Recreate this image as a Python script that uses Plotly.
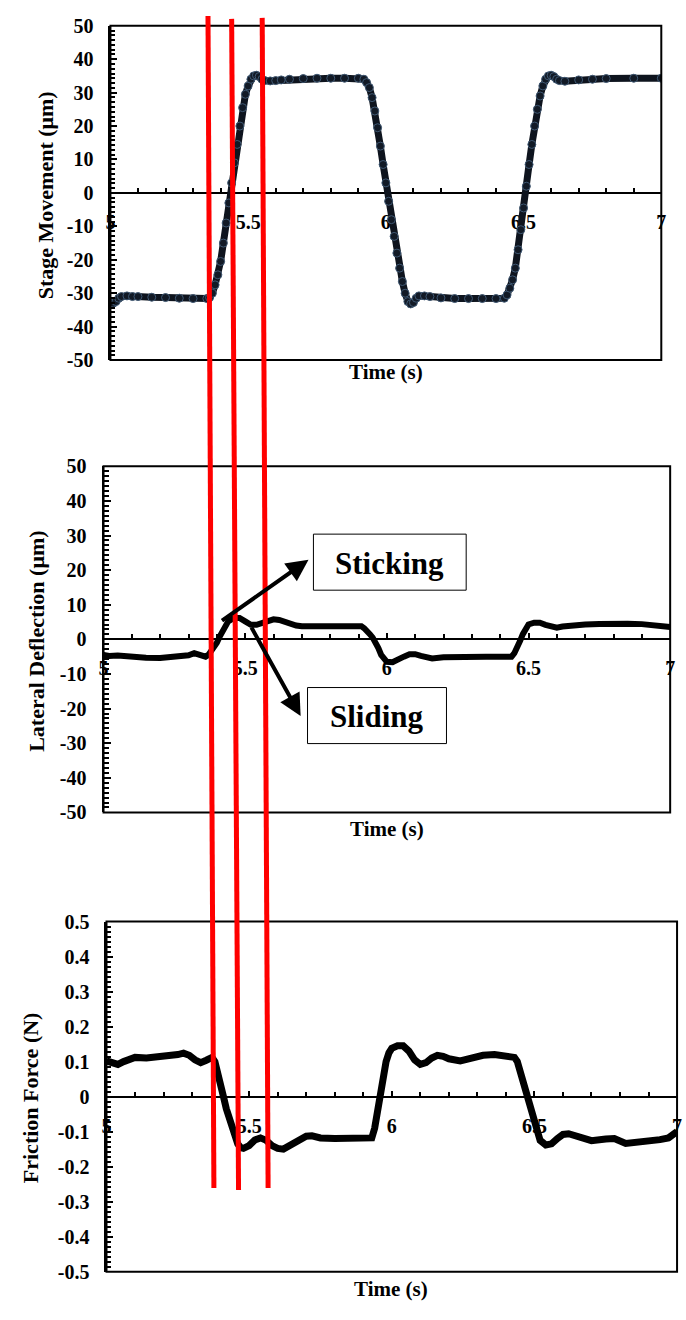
import plotly.graph_objects as go

W, H = 686, 1320

# ---------------- data ----------------
t_stage = [5.00, 5.01, 5.02, 5.03, 5.04, 5.06, 5.08, 5.10, 5.15, 5.20, 5.25, 5.30, 5.35, 5.36, 5.37, 5.38,
           5.39, 5.40, 5.41, 5.42, 5.43, 5.44, 5.45, 5.46, 5.47, 5.48, 5.49, 5.50, 5.51, 5.52, 5.53, 5.54,
           5.55, 5.56, 5.58, 5.60, 5.62, 5.65, 5.70, 5.75, 5.80, 5.85, 5.90, 5.92, 5.93, 5.94, 5.95, 5.96,
           5.97, 5.98, 5.99, 6.00, 6.01, 6.02, 6.03, 6.04, 6.05, 6.06, 6.07, 6.08, 6.09, 6.10, 6.11, 6.12,
           6.14, 6.16, 6.20, 6.25, 6.30, 6.35, 6.40, 6.43, 6.44, 6.45, 6.46, 6.47, 6.48, 6.49, 6.50, 6.51,
           6.52, 6.53, 6.54, 6.55, 6.56, 6.57, 6.58, 6.59, 6.60, 6.61, 6.62, 6.63, 6.65, 6.70, 6.75, 6.80,
           6.90, 7.00]
stage_um = [-32.5, -33.0, -32.5, -31.5, -31.0, -30.8, -31.0, -31.0, -31.2, -31.3, -31.5, -31.6, -31.6, -31.3, -30.0, -27.5,
            -24.5, -20.5, -15.0, -9.0, -3.0, 3.0, 9.0, 14.5, 20.0, 25.5, 29.5, 32.0, 34.0, 35.0, 35.2, 34.8,
            34.0, 33.6, 33.5, 33.6, 33.8, 34.0, 34.2, 34.3, 34.3, 34.3, 34.3, 34.0, 33.0, 31.5, 28.5, 24.5,
            19.5, 14.0, 8.5, 3.0, -2.5, -8.0, -13.0, -18.0, -22.5, -26.5, -30.0, -32.5, -33.2, -32.8, -31.5, -30.8,
            -30.8, -31.0, -31.4, -31.6, -31.6, -31.6, -31.6, -31.5, -30.5, -28.5, -26.0, -22.5, -17.0, -11.0, -4.5, 2.0,
            8.5, 14.5, 20.0, 25.0, 29.0, 32.0, 34.0, 35.0, 35.2, 34.8, 34.0, 33.6, 33.4, 33.8, 34.0, 34.2,
            34.3, 34.3]

t_lat = [5.00, 5.02, 5.05, 5.08, 5.10, 5.15, 5.20, 5.25, 5.30, 5.32, 5.34, 5.36, 5.37, 5.38, 5.39, 5.40,
         5.41, 5.42, 5.43, 5.44, 5.46, 5.48, 5.50, 5.52, 5.54, 5.56, 5.58, 5.60, 5.62, 5.64, 5.66, 5.68,
         5.70, 5.75, 5.80, 5.85, 5.90, 5.91, 5.92, 5.93, 5.94, 5.95, 5.96, 5.97, 5.98, 5.99, 6.00, 6.02,
         6.04, 6.06, 6.08, 6.10, 6.12, 6.14, 6.16, 6.20, 6.25, 6.30, 6.35, 6.40, 6.44, 6.45, 6.46, 6.47,
         6.48, 6.49, 6.50, 6.52, 6.54, 6.56, 6.58, 6.60, 6.62, 6.65, 6.70, 6.75, 6.80, 6.85, 6.90, 6.95, 7.00]
lateral_um = [-4.5, -4.8, -4.7, -5.0, -5.2, -5.3, -5.4, -5.2, -4.6, -4.0, -4.6, -5.0, -4.5, -3.5, -2.5, -1.0,
              0.8, 2.5, 4.0, 5.2, 6.2, 6.2, 5.2, 4.2, 4.2, 4.8, 5.5, 5.8, 5.6, 5.0, 4.5, 4.0,
              3.8, 3.9, 4.0, 4.0, 4.0, 3.8, 3.2, 2.5, 1.5, 0.5, -0.8, -2.5, -4.5, -5.8, -6.5, -6.6,
              -6.0, -5.0, -4.3, -4.3, -4.8, -5.3, -5.5, -5.2, -5.0, -5.2, -5.0, -5.0, -5.0, -4.0, -2.5, -0.5,
              1.5, 3.2, 4.3, 4.8, 4.8, 4.2, 3.6, 3.4, 3.7, 4.0, 4.3, 4.4, 4.6, 4.5, 4.4, 4.2, 3.6]

t_fric = [5.00, 5.02, 5.04, 5.06, 5.08, 5.10, 5.14, 5.18, 5.22, 5.25, 5.27, 5.29, 5.31, 5.33, 5.35, 5.37,
          5.38, 5.39, 5.40, 5.41, 5.42, 5.43, 5.44, 5.45, 5.46, 5.47, 5.48, 5.50, 5.52, 5.54, 5.56, 5.58,
          5.60, 5.62, 5.64, 5.66, 5.68, 5.70, 5.72, 5.75, 5.80, 5.85, 5.90, 5.93, 5.94, 5.95, 5.96, 5.97,
          5.98, 5.99, 6.00, 6.02, 6.04, 6.06, 6.08, 6.10, 6.12, 6.14, 6.16, 6.18, 6.20, 6.24, 6.28, 6.32,
          6.36, 6.40, 6.43, 6.44, 6.45, 6.46, 6.47, 6.48, 6.49, 6.50, 6.51, 6.52, 6.54, 6.56, 6.58, 6.60,
          6.62, 6.65, 6.70, 6.75, 6.78, 6.82, 6.86, 6.90, 6.94, 6.97, 7.00]
friction_N = [0.102, 0.096, 0.092, 0.100, 0.108, 0.112, 0.110, 0.113, 0.115, 0.120, 0.124, 0.118, 0.105, 0.097, 0.104, 0.112,
              0.100, 0.072, 0.035, 0.000, -0.035, -0.062, -0.085, -0.112, -0.135, -0.146, -0.148, -0.140, -0.124, -0.118, -0.125, -0.140,
              -0.148, -0.150, -0.140, -0.128, -0.120, -0.113, -0.112, -0.118, -0.120, -0.118, -0.119, -0.118, -0.090, -0.040, 0.010, 0.060,
              0.100, 0.125, 0.138, 0.145, 0.145, 0.130, 0.105, 0.092, 0.097, 0.110, 0.118, 0.115, 0.108, 0.102, 0.110, 0.118,
              0.120, 0.116, 0.112, 0.100, 0.070, 0.040, 0.010, -0.010, -0.050, -0.080, -0.105, -0.125, -0.138, -0.135, -0.120, -0.108,
              -0.106, -0.115, -0.126, -0.121, -0.120, -0.134, -0.132, -0.128, -0.123, -0.118, -0.100]

x_tickvals = [5, 5.5, 6, 6.5, 7]
x_ticktext = ["5", "5.5", "6", "6.5", "7"]
um_tickvals = [-50, -40, -30, -20, -10, 0, 10, 20, 30, 40, 50]
um_ticktext = ["-50", "-40", "-30", "-20", "-10", "0", "10", "20", "30", "40", "50"]
n_tickvals = [-0.5, -0.4, -0.3, -0.2, -0.1, 0, 0.1, 0.2, 0.3, 0.4, 0.5]
n_ticktext = ["-0.5", "-0.4", "-0.3", "-0.2", "-0.1", "0", "0.1", "0.2", "0.3", "0.4", "0.5"]

y_titles = ["Stage Movement (μm)", "Lateral Deflection (μm)", "Friction Force (N)"]

# ---------------- layout helpers (pixel -> paper) ----------------
def px(x):
    return x / W

def py(y):
    return 1 - y / H

FONT = "Liberation Serif"

# plot-area boxes in pixels: left, right, top, bottom
boxes = [(107, 666, 15, 355), (100, 675, 463, 815), (103, 682, 926, 1282)]
series = [(t_stage, stage_um), (t_lat, lateral_um), (t_fric, friction_N)]

fig = go.Figure()

fig.add_trace(go.Scatter(
    x=t_stage, y=stage_um, xaxis="x", yaxis="y", mode="lines+markers",
    line=dict(color="#0e141e", width=7),
    marker=dict(size=8, color="#121a26", line=dict(color="#3f5873", width=1)),
    showlegend=False))
fig.add_trace(go.Scatter(
    x=t_lat, y=lateral_um, xaxis="x2", yaxis="y2", mode="lines",
    line=dict(color="black", width=6), showlegend=False))
fig.add_trace(go.Scatter(
    x=t_fric, y=friction_N, xaxis="x3", yaxis="y3", mode="lines",
    line=dict(color="black", width=7), showlegend=False))

tickfont = dict(family=FONT, size=20, color="black", weight="bold")
layout = dict(
    width=W, height=H, margin=dict(l=0, r=0, t=0, b=0),
    paper_bgcolor="white", plot_bgcolor="white", showlegend=False,
)

yranges = [(-50, 50), (-50, 50), (-0.5, 0.5)]
ytv = [(um_tickvals, um_ticktext), (um_tickvals, um_ticktext), (n_tickvals, n_ticktext)]

shapes = []
annotations = []
for i, (l, r, t, b) in enumerate(boxes):
    sfx = "" if i == 0 else str(i + 1)
    msfx = str(i + 4)  # overlay axes that carry the minor ticks
    ydom = [py(b), py(t)]
    xdom = [px(l), px(r)]
    lo, hi = yranges[i]
    xpos = (ydom[0] + ydom[1]) / 2
    layout["xaxis" + sfx] = dict(
        domain=xdom, range=[5, 7], anchor="free", position=xpos,
        tickmode="array", tickvals=x_tickvals, ticktext=x_ticktext,
        ticks="inside", ticklen=5, tickwidth=2, tickcolor="black",
        showline=True, linecolor="black", linewidth=2, showgrid=False, zeroline=False,
        tickfont=tickfont, ticklabelstandoff=11, layer="below traces", fixedrange=True,
    )
    layout["yaxis" + sfx] = dict(
        domain=ydom, range=[lo, hi], anchor="x" + sfx,
        tickmode="array", tickvals=ytv[i][0], ticktext=ytv[i][1],
        ticks="inside", ticklen=7, tickwidth=2, tickcolor="black",
        showline=True, linecolor="black", linewidth=2, showgrid=False, zeroline=False,
        tickfont=tickfont, ticklabelstandoff=11, fixedrange=True,
    )
    # minor-tick overlay axes
    layout["xaxis" + msfx] = dict(
        overlaying="x" + sfx, range=[5, 7], anchor="free", position=xpos,
        tickmode="linear", tick0=5, dtick=0.1, ticks="inside", ticklen=5, tickwidth=2,
        tickcolor="black", showticklabels=False, showline=False, showgrid=False, zeroline=False,
        layer="below traces", fixedrange=True,
    )
    layout["yaxis" + msfx] = dict(
        overlaying="y" + sfx, range=[lo, hi], anchor="x" + msfx,
        tickmode="linear", tick0=lo, dtick=(hi - lo) / 70, ticks="inside", ticklen=5, tickwidth=1.5,
        tickcolor="black", showticklabels=False, showline=False, showgrid=False, zeroline=False,
        fixedrange=True,
    )
    fig.add_trace(go.Scatter(x=series[i][0], y=series[i][1], xaxis="x" + msfx, yaxis="y" + msfx,
                             mode="lines", line=dict(width=0, color="rgba(0,0,0,0)"),
                             hoverinfo="skip", showlegend=False))
    shapes.append(dict(type="rect", xref="x" + sfx + " domain", yref="y" + sfx + " domain",
                       x0=0, x1=1, y0=0, y1=1, line=dict(color="black", width=2), layer="above"))

# axis titles
xtitle_pos = [(387, 367), (388, 832), (392, 1300)]
for (x, y) in xtitle_pos:
    annotations.append(dict(text="<b>Time (s)</b>", x=px(x), y=py(y), xref="paper", yref="paper",
                            showarrow=False, xanchor="center", yanchor="middle",
                            font=dict(family=FONT, size=21, color="black")))
ytitle_pos = [(41, 187), (32, 641), (26, 1105)]
for title, (x, y) in zip(y_titles, ytitle_pos):
    annotations.append(dict(text="<b>" + title + "</b>", x=px(x), y=py(y), xref="paper", yref="paper",
                            showarrow=False, xanchor="center", yanchor="middle", textangle=-90,
                            font=dict(family=FONT, size=22, color="black")))

# labelled boxes
for label, (l, r, t, b) in [("Sticking", (313, 468, 532, 589)), ("Sliding", (307, 448, 688, 745))]:
    shapes.append(dict(type="rect", xref="paper", yref="paper", x0=px(l), x1=px(r), y0=py(b), y1=py(t),
                       line=dict(color="black", width=1), fillcolor="white", layer="above"))
    annotations.append(dict(text="<b>" + label + "</b>", x=px((l + r) / 2), y=py((t + b) / 2 + 1),
                            xref="paper", yref="paper", showarrow=False, xanchor="center", yanchor="middle",
                            font=dict(family=FONT, size=31, color="black")))

# arrows (tail -> head)
for (tx, ty), (hx, hy) in [((220, 620), (308, 558)), ((250, 627), (300, 717))]:
    annotations.append(dict(text="", x=px(hx), y=py(hy), xref="paper", yref="paper",
                            ax=tx - hx, ay=ty - hy, axref="pixel", ayref="pixel",
                            showarrow=True, arrowhead=2, arrowsize=1.1, arrowwidth=4,
                            arrowcolor="black", standoff=0, startstandoff=0))

# red guide lines
for (x0, y0), (x1, y1) in [((206, 5), (212, 1197)), ((230, 8), (237, 1199)), ((261, 7), (267, 1197))]:
    shapes.append(dict(type="line", xref="paper", yref="paper", x0=px(x0), y0=py(y0), x1=px(x1), y1=py(y1),
                       line=dict(color="#ff0000", width=5), layer="above"))

layout["shapes"] = shapes
layout["annotations"] = annotations
fig.update_layout(**layout)
fig.write_html("out.html",
               post_script="document.body.style.margin='0';document.body.style.padding='0';")
